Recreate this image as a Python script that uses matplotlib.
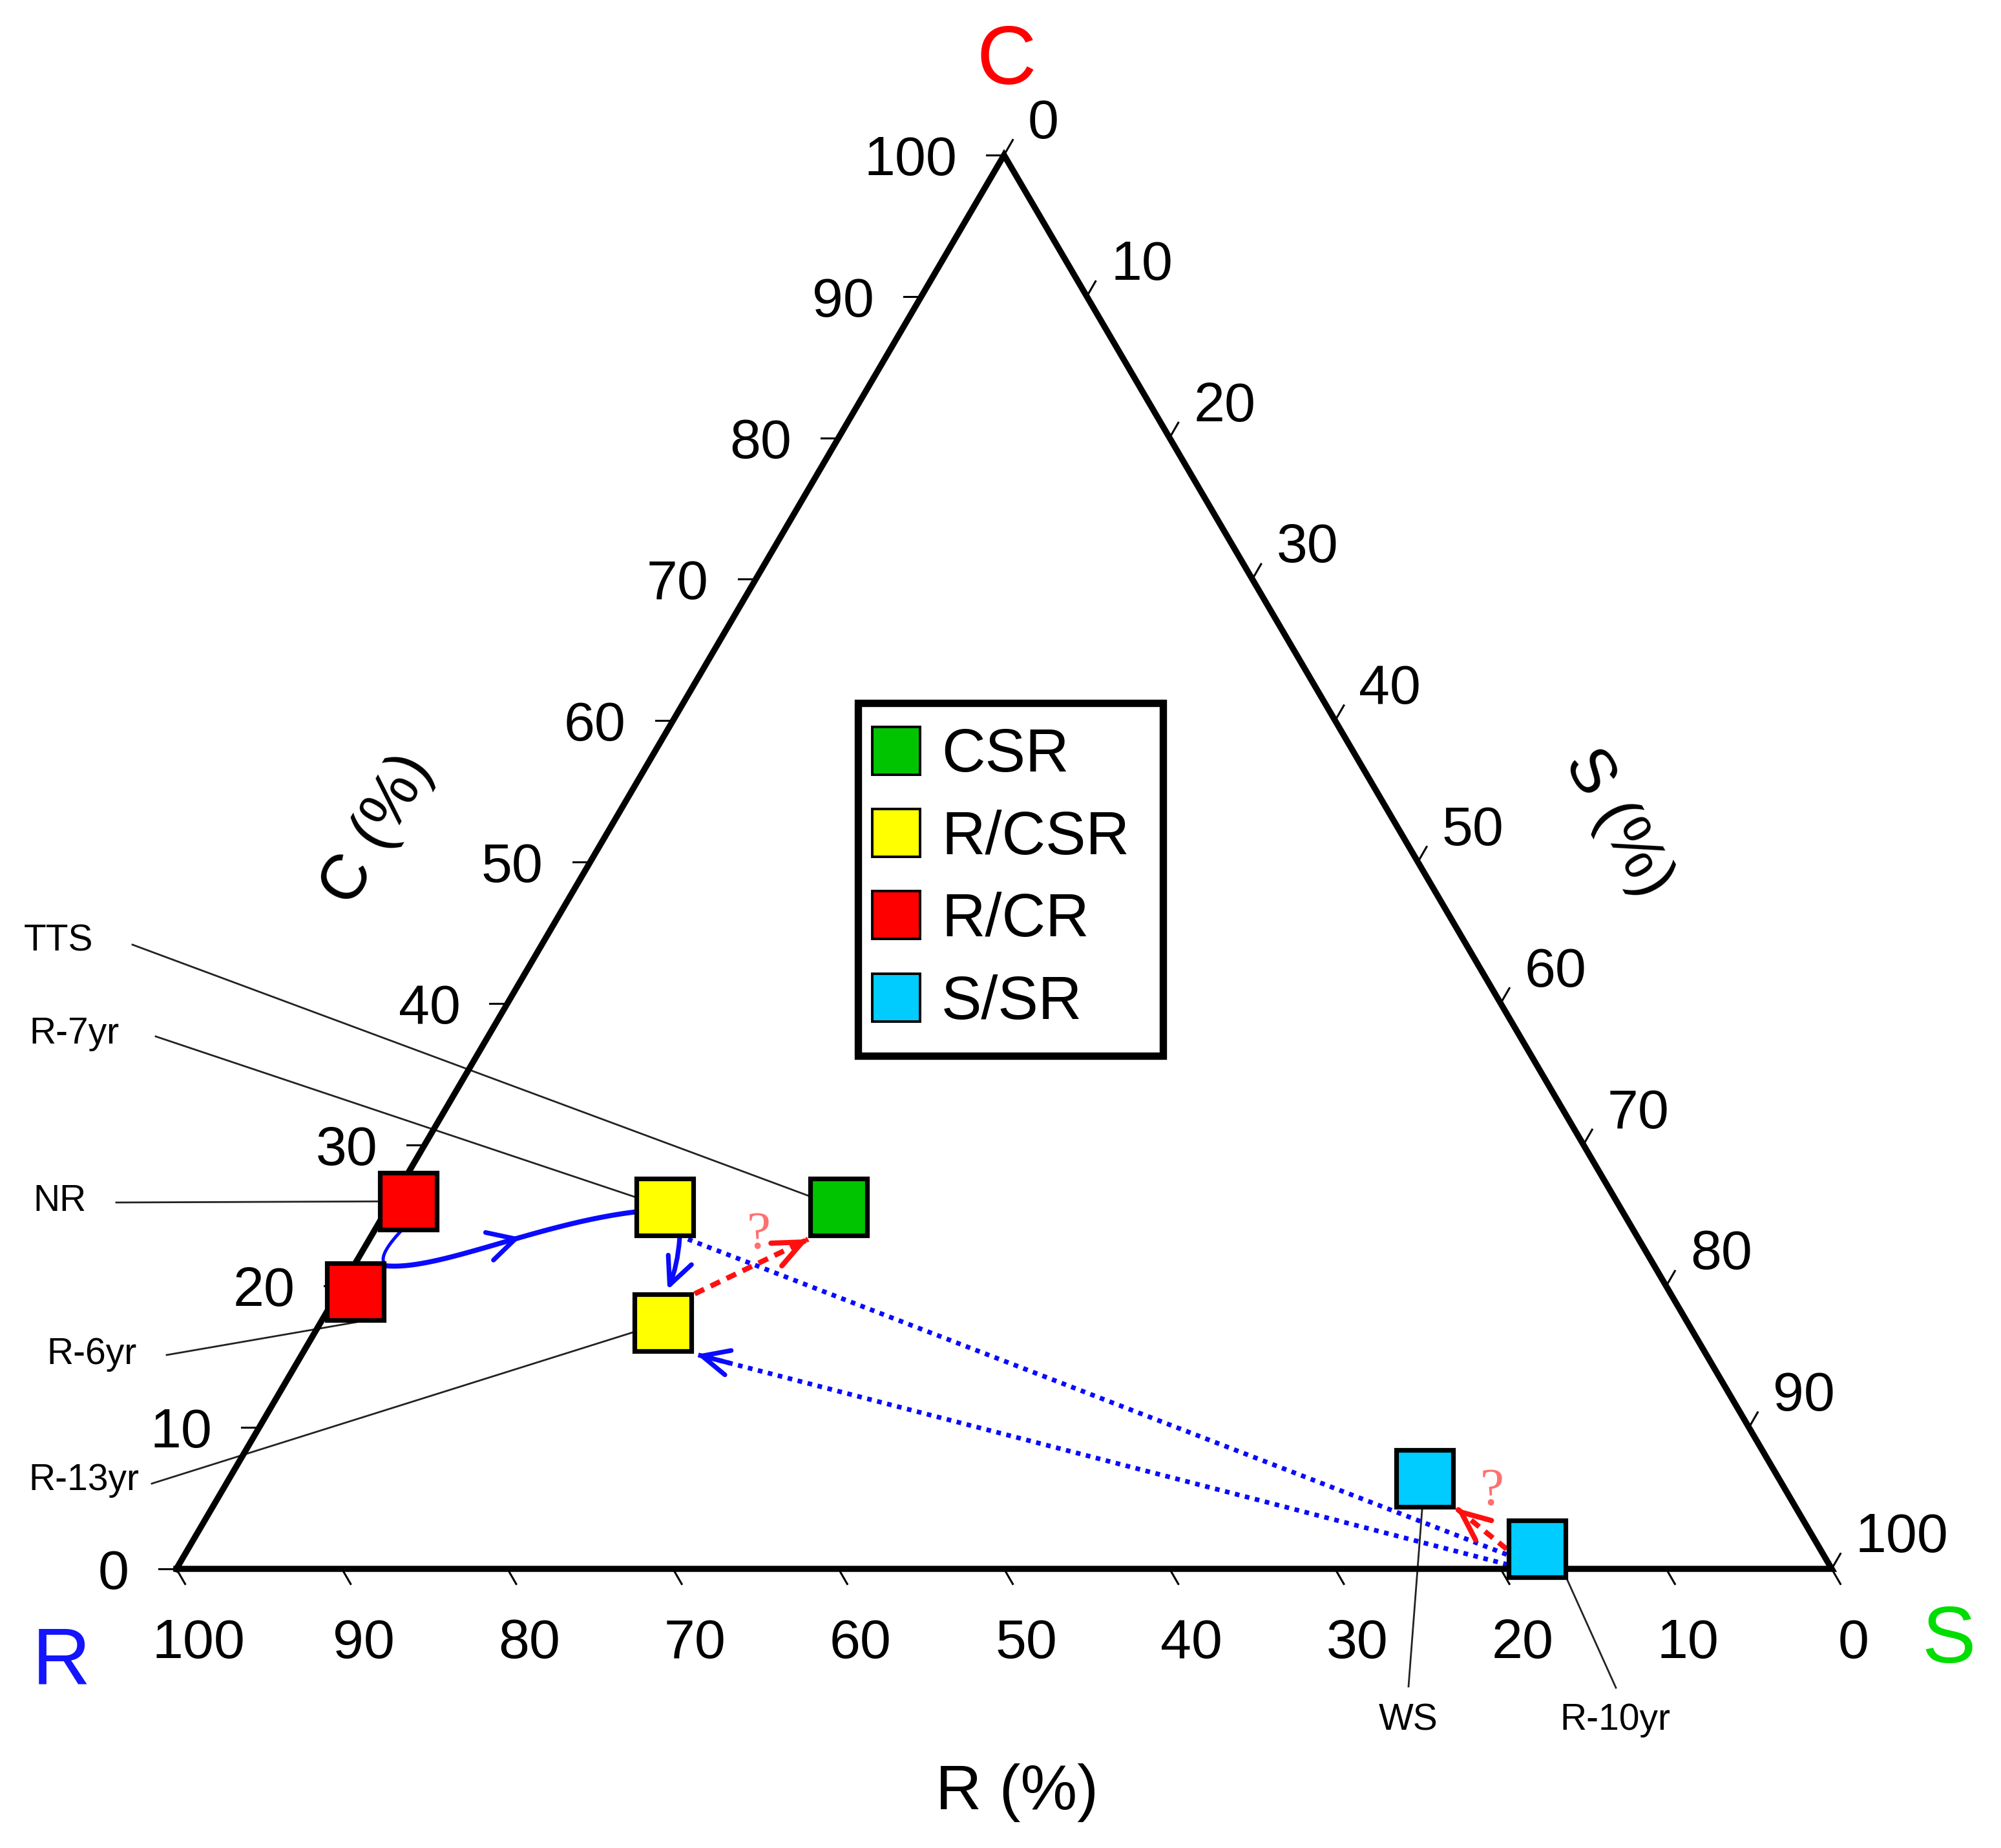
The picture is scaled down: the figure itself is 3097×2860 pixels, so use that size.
import numpy as np
import matplotlib
matplotlib.use('Agg')
import matplotlib.pyplot as plt
from matplotlib.lines import Line2D
from matplotlib.patches import FancyArrowPatch

plt.rcParams['font.family'] = ['Liberation Sans', 'DejaVu Sans']

# CSR coordinates (%) of each site
sites = ['NR', 'R-6yr', 'R-7yr', 'R-13yr', 'TTS', 'WS', 'R-10yr']
c_pct = [26.0, 19.6, 25.6, 17.4, 25.6, 6.4, 1.4]
s_pct = [1.0, 1.0, 16.7, 20.7, 27.2, 72.2, 81.5]
r_pct = [100 - c - s for c, s in zip(c_pct, s_pct)]
strategy = ['R/CR', 'R/CR', 'R/CSR', 'R/CSR', 'CSR', 'S/SR', 'S/SR']

legend_order = ['CSR', 'R/CSR', 'R/CR', 'S/SR']
strategy_colors = {'CSR': '#00c400', 'R/CSR': '#ffff00',
                   'R/CR': '#ff0000', 'S/SR': '#00ccff'}
ticks = list(range(0, 101, 10))

# figure geometry (pixels of the 3097x2860 image)
W, H, DPI = 3097, 2860, 200
X0, Y0 = 273, 2428      # R corner
KX, KY = 25.62, 21.88   # pixels per percent along x / up the C axis

fig = plt.figure(figsize=(W / DPI, H / DPI), dpi=DPI)
ax = fig.add_axes([0, 0, 1, 1])
ax.set_xlim(-X0 / KX, (W - X0) / KX)
ax.set_ylim(-(H - Y0) / KY, Y0 / KY)
ax.axis('off')


def tern(s, c):
    return s + c / 2.0, c


def px(xp, yp):
    return (xp - X0) / KX, (Y0 - yp) / KY


def shift(p, dxp, dyp):
    return p[0] + dxp / KX, p[1] - dyp / KY


pts = {n: tern(s, c) for n, s, c in zip(sites, s_pct, c_pct)}

# triangle + ticks
ax.plot([0, 100, 50, 0], [0, 0, 100, 0], color='black', lw=3.4,
        solid_joinstyle='miter', zorder=3)
tl = 27
tick_fs = 31
for t in ticks:
    # C axis (left edge)
    x, y = t / 2.0, t
    ax.plot([x, x - tl / KX], [y, y], color='black', lw=1.1, zorder=3)
    ax.text(x - 73 / KX, y, str(t), ha='right', va='center_baseline', fontsize=tick_fs)
    # S axis (right edge)
    x, y = tern(t, 100 - t)
    ax.plot([x, x + 0.5 * tl / KX], [y, y + 0.866 * tl / KY], color='black', lw=1.1, zorder=3)
    ax.text(x + 37 / KX, y + 57 / KY, str(t), ha='left', va='center_baseline', fontsize=tick_fs)
    # R axis (bottom)
    x = 100 - t
    ax.plot([x, x + 0.5 * tl / KX], [0, -0.866 * tl / KY], color='black', lw=1.1, zorder=3)
    ax.text(x + 34 / KX, -107 / KY, str(t), ha='center', va='center_baseline', fontsize=tick_fs)

# corner letters and axis titles
ax.text(*px(1558, 83), 'C', color='#ff0000', fontsize=46, ha='center', va='center_baseline')
ax.text(*px(95, 2562), 'R', color='#1414ff', fontsize=45, ha='center', va='center_baseline')
ax.text(*px(3016, 2528), 'S', color='#00dd00', fontsize=45, ha='center', va='center_baseline')
ax.text(*px(585, 1284), 'C (%)', fontsize=35.5, rotation=60, ha='center', va='center',
        rotation_mode='anchor')
ax.text(*px(2504, 1274), 'S (%)', fontsize=35.5, rotation=-60, ha='center', va='center',
        rotation_mode='anchor')
ax.text(*px(1574, 2775), 'R (%)', fontsize=35.5, ha='center', va='center')

# site labels with leader lines
label_pos = {'TTS': (91, 1456), 'R-7yr': (115, 1600), 'NR': (93, 1859),
             'R-6yr': (142, 2096), 'R-13yr': (130, 2291),
             'WS': (2180, 2662), 'R-10yr': (2500, 2662)}
leader_start = {'TTS': (205, 1462), 'R-7yr': (241, 1604), 'NR': (180, 1861),
                'R-6yr': (258, 2097), 'R-13yr': (235, 2296),
                'WS': (2180, 2610), 'R-10yr': (2501, 2612)}
leader_end = {'R-6yr': (2, 47), 'R-10yr': (46, 46)}
for n in sites:
    ax.text(*px(*label_pos[n]), n, fontsize=20.5, ha='center', va='center')
    a = px(*leader_start[n])
    b = shift(pts[n], *leader_end.get(n, (0, 0)))
    ax.plot([a[0], b[0]], [a[1], b[1]], color='#222222', lw=1.0, zorder=2)

BLUE = '#0a0aff'
RED = '#ff1010'


def head(p0, p1, color, lw, hl=13, hw=6):
    tail = (p0[0] + 0.96 * (p1[0] - p0[0]), p0[1] + 0.96 * (p1[1] - p0[1]))
    ax.add_patch(FancyArrowPatch(tail, p1, arrowstyle=f'->,head_length={hl},head_width={hw}',
                                 mutation_scale=1, lw=lw, color=color,
                                 shrinkA=0, shrinkB=0, zorder=4))


def bezier(ctrl, n=60):
    ctrl = np.asarray(ctrl)
    t = np.linspace(0, 1, n)[:, None]
    if len(ctrl) == 3:
        return (1 - t) ** 2 * ctrl[0] + 2 * (1 - t) * t * ctrl[1] + t ** 2 * ctrl[2]
    return ((1 - t) ** 3 * ctrl[0] + 3 * (1 - t) ** 2 * t * ctrl[1]
            + 3 * (1 - t) * t ** 2 * ctrl[2] + t ** 3 * ctrl[3])


# blue dotted lines between R-10yr and the R/CSR sites
dot = (0, (1, 1.2))
a0, a1 = shift(pts['R-7yr'], 36, 50), shift(pts['R-10yr'], -30, 15)
ax.plot([a0[0], a1[0]], [a0[1], a1[1]], color=BLUE, lw=2.6, ls=dot, zorder=2)
b0, b1 = shift(pts['R-10yr'], -30, 28), shift(pts['R-13yr'], 52, 49)
ax.plot([b0[0], b1[0]], [b0[1], b1[1]], color=BLUE, lw=2.6, ls=dot, zorder=2)
head(b0, b1, BLUE, 2.6, 15, 7)

# blue solid path NR -> R-6yr -> R-7yr
thin = bezier([shift(pts['NR'], -12, 47), shift(pts['R-6yr'], 30, -50),
               shift(pts['R-6yr'], 50, -40)])
ax.plot(thin[:, 0], thin[:, 1], color=BLUE, lw=1.8, zorder=2)
q0 = shift(pts['R-6yr'], 50, -40)
q3 = shift(pts['R-7yr'], -48, 8)
thick = bezier([q0, shift(q0, 82, 6), shift(pts['R-7yr'], -199, 27), q3], 101)
ax.plot(thick[:, 0], thick[:, 1], color=BLUE, lw=2.8, zorder=2)
head(thick[56], thick[60], BLUE, 2.6, 15, 8)

# R-7yr -> R-13yr
ax.add_patch(FancyArrowPatch(shift(pts['R-7yr'], 23, 49), shift(pts['R-13yr'], 7, -51),
                             connectionstyle='arc3,rad=-0.08',
                             arrowstyle='->,head_length=15,head_width=7',
                             mutation_scale=1, lw=2.6, color=BLUE,
                             shrinkA=0, shrinkB=0, zorder=4))

# red dashed "?" arrows
dash = (0, (2.0, 1.4))
for p0, p1, qoff in [(shift(pts['R-13yr'], 49, -45), shift(pts['TTS'], -47, 50), (11, -48)),
                     (shift(pts['R-10yr'], -47, 0), shift(pts['WS'], 49, 46), (16, -56))]:
    ax.plot([p0[0], p1[0]], [p0[1], p1[1]], color=RED, lw=2.9, ls=dash, zorder=2)
    head(p0, p1, RED, 2.9, 16, 7)
    mid = ((p0[0] + p1[0]) / 2, (p0[1] + p1[1]) / 2)
    ax.text(*shift(mid, *qoff), '?', color='#ff7070', fontsize=30,
            family=['Liberation Serif', 'DejaVu Serif'], ha='center', va='center')

# site markers
for n, st in zip(sites, strategy):
    x, y = pts[n]
    ax.plot(x, y, marker='s', ms=31.6, mfc=strategy_colors[st], mec='black',
            mew=2.6, ls='none', zorder=5)

# legend
handles = [Line2D([], [], marker='s', ls='none', ms=26.6, mfc=strategy_colors[k],
                  mec='black', mew=1.4) for k in legend_order]
leg = ax.legend(handles, legend_order, loc='upper left',
                bbox_to_anchor=(1328 / W, 1 - 1088 / H - 0.1, (1800 - 1328) / W, 0.1),
                bbox_transform=fig.transFigure, mode='expand', borderaxespad=0,
                fontsize=33.7, frameon=True, fancybox=False, edgecolor='black',
                framealpha=1, borderpad=0.4, labelspacing=0.41,
                handlelength=0.47, handletextpad=0.51)
leg.get_frame().set_linewidth(4.1)
leg.set_zorder(6)

fig.savefig('out.png', dpi=DPI)
